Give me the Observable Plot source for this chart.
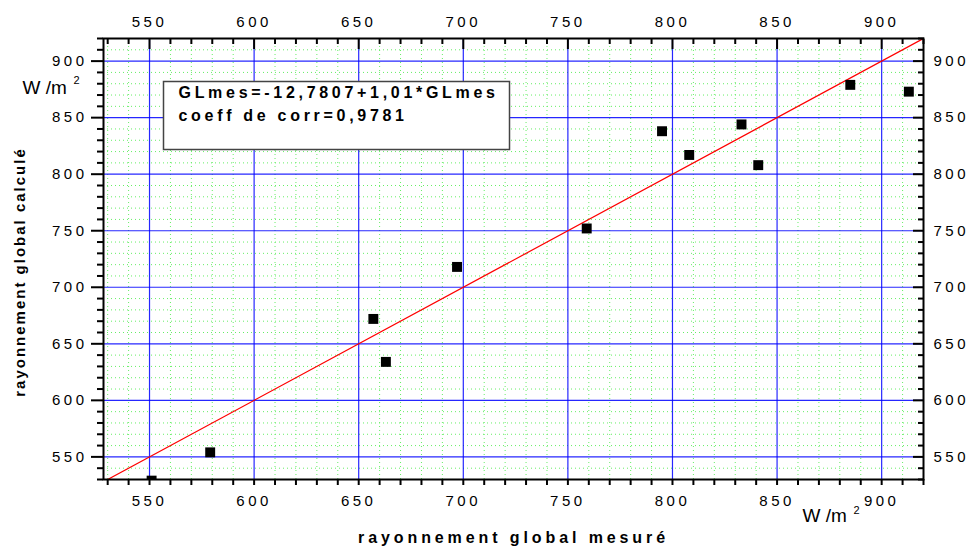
<!DOCTYPE html>
<html><head><meta charset="utf-8">
<script src="https://cdn.jsdelivr.net/npm/d3@7"></script>
<script src="https://cdn.jsdelivr.net/npm/@observablehq/plot@0.6"></script>
<style>
body{margin:0;background:#fff;}
#chart svg{display:block;}
g[aria-label="x-axis tick label"] text, g[aria-label="y-axis tick label"] text{letter-spacing:3.5px;}
g[aria-description="note"] text{letter-spacing:3.7px;}
g[aria-description="xlabel"] text{letter-spacing:3.9px;}
g[aria-description="ylabel"] text{letter-spacing:2px;}
</style></head><body><div id="chart"></div>
<script>
// measured (x) vs calculated (y) global radiation, W/m²
const measured   = [551, 579, 657, 663, 697, 759, 795, 808, 833, 841, 885, 913];
const calculated = [529, 554, 672, 634, 718, 752, 838, 817, 844, 808, 879, 873];
// reference line drawn on the chart
const fitX = [528, 920];
const fitY = [528, 920];
const majorTicks = [550, 600, 650, 700, 750, 800, 850, 900];
const minorTicks = d3.range(530, 921, 10).filter(v => v % 50 !== 0);
const allTicks = d3.range(530, 921, 10);
const noteLines = ["GLmes=-12,7807+1,01*GLmes", "coeff de corr=0,9781"];
const xLabel = "rayonnement global mesuré";
const yLabel = "rayonnement global calculé";
const unitText = "W /m";
const unitExp = "2";

const points = measured.map((m, i) => ({m, c: calculated[i]}));
const fit = fitX.map((x, i) => ({x, y: fitY[i]}));
const FONT = "Liberation Sans, Arial, sans-serif";

const plot = Plot.plot({
  width: 969, height: 556,
  marginLeft: 103, marginRight: 46, marginTop: 38, marginBottom: 77,
  style: {fontFamily: FONT, fontSize: "15px", background: "white", color: "black"},
  x: {domain: [528, 920], axis: null},
  y: {domain: [530, 920], axis: null},
  marks: [
    Plot.gridX(minorTicks, {stroke: "#66ee66", strokeOpacity: 1, strokeWidth: 1, strokeDasharray: "1,3"}),
    Plot.gridY(minorTicks, {stroke: "#66ee66", strokeOpacity: 1, strokeWidth: 1, strokeDasharray: "1,3"}),
    Plot.gridX(majorTicks, {stroke: "#0000ff", strokeOpacity: 0.85, strokeWidth: 1.2}),
    Plot.gridY(majorTicks, {stroke: "#0000ff", strokeOpacity: 0.85, strokeWidth: 1.2}),
    Plot.frame({fill: "white", stroke: "#444", strokeWidth: 1.5, insetLeft: 60, insetTop: 43, insetRight: 414, insetBottom: 330}),
    Plot.line(fit, {x: "x", y: "y", stroke: "#ff0000", strokeWidth: 1.2, clip: true}),
    Plot.dot(points, {x: "m", y: "c", symbol: "square", r: 5.6, fill: "black", stroke: "none", clip: true}),
    Plot.frame({stroke: "black", strokeWidth: 2}),
    // bottom axis
    Plot.axisX(allTicks, {anchor: "bottom", tickSize: 6, strokeWidth: 2, tickFormat: () => "", label: null}),
    Plot.axisX(majorTicks, {anchor: "bottom", tickSize: 0, tickPadding: 16, fontSize: 15, tickFormat: d => d, label: null}),
    // top axis (inward ticks)
    Plot.axisX(minorTicks, {anchor: "top", tickSize: -5, strokeWidth: 2, tickFormat: () => "", label: null}),
    Plot.axisX(majorTicks, {anchor: "top", tickSize: -10, strokeWidth: 2, tickFormat: () => "", label: null}),
    Plot.axisX(majorTicks, {anchor: "top", tickSize: 0, tickPadding: 12, fontSize: 15, tickFormat: d => d, label: null}),
    // left axis (outward)
    Plot.axisY(minorTicks, {anchor: "left", tickSize: 6, strokeWidth: 2, tickFormat: () => "", label: null}),
    Plot.axisY(majorTicks, {anchor: "left", tickSize: 12, strokeWidth: 2, tickFormat: () => "", label: null}),
    Plot.axisY(majorTicks, {anchor: "left", tickSize: 0, tickPadding: 16, fontSize: 15, tickFormat: d => d, label: null}),
    // right axis (inward)
    Plot.axisY(minorTicks, {anchor: "right", tickSize: -6, strokeWidth: 2, tickFormat: () => "", label: null}),
    Plot.axisY(majorTicks, {anchor: "right", tickSize: -11, strokeWidth: 2, tickFormat: () => "", label: null}),
    Plot.axisY(majorTicks, {anchor: "right", tickSize: 0, tickPadding: 10, fontSize: 15, tickFormat: d => d, label: null}),
    // annotation
    Plot.text([noteLines[0]], {text: d => d, frameAnchor: "top-left", dx: 75, dy: 59, textAnchor: "start", lineAnchor: "bottom", fontWeight: "bold", fontSize: 16, fill: "black", ariaDescription: "note"}),
    Plot.text([noteLines[1]], {text: d => d, frameAnchor: "top-left", dx: 75, dy: 82.5, textAnchor: "start", lineAnchor: "bottom", fontWeight: "bold", fontSize: 16, fill: "black", ariaDescription: "note"}),
    // axis titles
    Plot.text([xLabel], {text: d => d, frameAnchor: "bottom", dx: 0, dy: 63, textAnchor: "middle", lineAnchor: "bottom", fontWeight: "bold", fontSize: 16, fill: "black", ariaDescription: "xlabel"}),
    Plot.text([yLabel], {text: d => d, frameAnchor: "left", dx: -83, dy: 13, rotate: -90, textAnchor: "middle", lineAnchor: "middle", fontWeight: "bold", fontSize: 15, fill: "black", ariaDescription: "ylabel"}),
    // units
    Plot.text([unitText], {text: d => d, frameAnchor: "top-left", dx: -81, dy: 55, textAnchor: "start", lineAnchor: "bottom", fontSize: 19, fill: "black"}),
    Plot.text([unitExp], {text: d => d, frameAnchor: "top-left", dx: -30, dy: 45.5, textAnchor: "start", lineAnchor: "bottom", fontSize: 11, fill: "black"}),
    Plot.text([unitText], {text: d => d, frameAnchor: "bottom-right", dx: -121, dy: 42, textAnchor: "start", lineAnchor: "bottom", fontSize: 19, fill: "black"}),
    Plot.text([unitExp], {text: d => d, frameAnchor: "bottom-right", dx: -70, dy: 34, textAnchor: "start", lineAnchor: "bottom", fontSize: 11, fill: "black"})
  ]
});
document.getElementById("chart").append(plot);
</script>
</body></html>
